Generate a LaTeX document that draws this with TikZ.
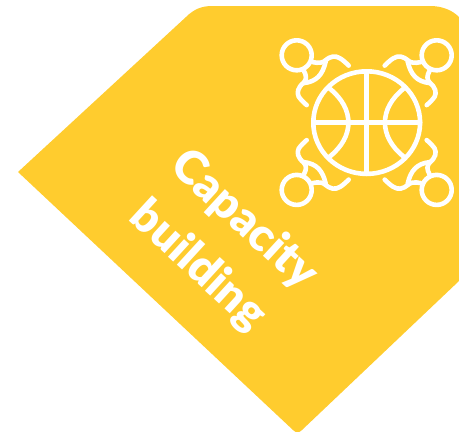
\documentclass[tikz,border=0pt]{standalone}
\usepackage{fontspec}
\setmainfont{Lato}[BoldFont={Lato Black}]
\definecolor{banner}{HTML}{FFCC2E}
\tikzset{
  iconline/.style={draw=white,line width=4.6pt,line cap=round,line join=round},
  labeltext/.style={text=white,font=\fontsize{46}{46}\selectfont\bfseries,rotate=-42.5,inner sep=0pt,anchor=center}
}
\begin{document}
\begin{tikzpicture}[x=1pt,y=-1pt]
\useasboundingbox (0,0) rectangle (459,432);
\path[fill=banner] (18,172) -- (186,17) .. controls (194,9) and (202,6) .. (212,6) -- (430,6) .. controls (442,6) and (452,10) .. (459,17) -- (459,281) -- (302,430) .. controls (299,433) and (296,433) .. (293,430) -- cycle;
\node[labeltext] (cap) at (244,220) {Capacity};
\node[labeltext] (bui) at (198,266) {building};
\begin{scope}[shift={(366.7,122.6)}]
\draw[iconline] (0,0) circle [x radius=53.4,y radius=51.3];
\draw[iconline] (0,-51.3) -- (0,51.3) (-53.4,0) -- (53.4,0);
\draw[iconline] (-37,-34) .. controls (-12,-14) and (-12,14) .. (-37,34);
\draw[iconline] (37,-34) .. controls (12,-14) and (12,14) .. (37,34);
\foreach \sx/\sy in {1/1,-1/1,1/-1,-1/-1}{
\begin{scope}[xscale=\sx,yscale=\sy]
\draw[iconline] (-70,-67.3) circle (15);
\draw[iconline] (-18,-57) .. controls (-24,-63) and (-29,-67) .. (-34,-66) .. controls (-40,-65) and (-42,-60) .. (-46,-60) .. controls (-49,-59.5) and (-51,-60) .. (-54,-60.5);
\draw[iconline] (-41,-61) .. controls (-44,-48) and (-50,-41) .. (-63,-39.5);
\draw[iconline] (-63,-52) .. controls (-60,-47) and (-60,-43) .. (-63,-40) .. controls (-69,-35) and (-70,-30) .. (-68,-26) .. controls (-66,-23) and (-63,-20) .. (-60,-17.5);
\end{scope}}
\end{scope}
\end{tikzpicture}
\end{document}
